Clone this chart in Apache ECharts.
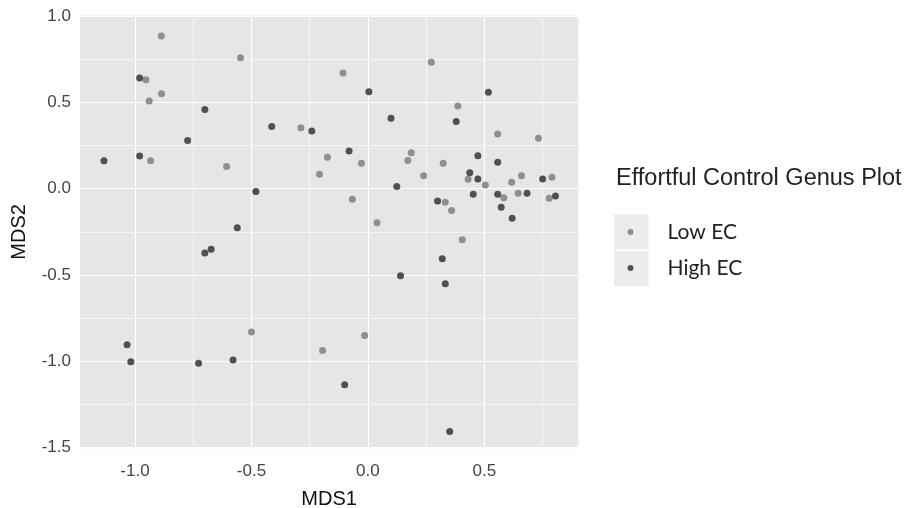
<!DOCTYPE html>
<html>
<head>
<meta charset="utf-8">
<script src="https://cdn.jsdelivr.net/npm/echarts@6/dist/echarts.min.js"></script>
<style>html,body{margin:0;padding:0;background:#fff;}#c{width:904px;height:508px;}</style>
</head>
<body>
<div id="c"></div>
<script>
// Data
const lowX  = [-0.887,-0.547,-0.953,-0.939,-0.886,-0.933,-0.607,-0.500,0.272,-0.107,0.386,-0.288,0.557,0.732,-0.174,0.186,0.171,-0.028,0.323,-0.208,0.239,0.430,0.504,0.659,0.617,0.790,0.583,0.645,0.778,-0.067,0.332,0.359,0.039,0.405,-0.014,-0.195];
const lowY  = [0.885,0.760,0.632,0.508,0.551,0.162,0.129,-0.832,0.734,0.671,0.479,0.354,0.317,0.292,0.182,0.209,0.164,0.147,0.147,0.083,0.075,0.054,0.021,0.075,0.038,0.066,-0.052,-0.026,-0.055,-0.062,-0.079,-0.126,-0.197,-0.296,-0.851,-0.938];
const highX = [-0.980,-0.700,-0.413,-0.774,-1.133,-0.980,-0.481,-0.561,-0.700,-0.673,-1.034,-1.018,-0.727,-0.579,0.004,0.517,0.379,0.099,-0.241,-0.081,0.472,0.557,0.437,0.472,0.750,0.124,0.452,0.557,0.683,0.805,0.299,0.572,0.619,0.319,0.140,0.332,-0.100,0.351];
const highY = [0.642,0.460,0.361,0.280,0.162,0.189,-0.017,-0.226,-0.373,-0.352,-0.905,-1.004,-1.013,-0.994,0.563,0.560,0.389,0.408,0.334,0.218,0.191,0.154,0.093,0.056,0.056,0.012,-0.033,-0.033,-0.026,-0.043,-0.072,-0.108,-0.172,-0.406,-0.505,-0.551,-1.137,-1.408];
const seriesNames = ['Low EC', 'High EC'];
const xTicks = [-1.0, -0.5, 0.0, 0.5];
const yTicks = [-1.5, -1.0, -0.5, 0.0, 0.5, 1.0];
const xMinor = [-0.75, -0.25, 0.25, 0.75];
const yMinor = [-1.25, -0.75, -0.25, 0.25, 0.75];

const zip = (a, b) => a.map((v, i) => [v, b[i]]);
const chart = echarts.init(document.getElementById('c'));

const gridLines = []
  .concat(xTicks.map(v => ({xAxis: v, lineStyle: {width: 1.2}})))
  .concat(yTicks.map(v => ({yAxis: v, lineStyle: {width: 1.2}})))
  .concat(xMinor.map(v => ({xAxis: v, lineStyle: {width: 0.6}})))
  .concat(yMinor.map(v => ({yAxis: v, lineStyle: {width: 0.6}})));

const tickLabel = {
  fontFamily: 'Liberation Sans', fontSize: 17, color: '#454545',
  formatter: v => Number(v).toFixed(1)
};

chart.setOption({
  animation: false,
  title: {
    text: 'Effortful Control Genus Plot',
    left: 616, top: 165, padding: 0,
    textStyle: {fontFamily: 'Liberation Sans', fontSize: 23.5, fontWeight: 'normal', color: '#222', lineHeight: 27}
  },
  graphic: [
    {type: 'rect', z: 0, shape: {x: 614, y: 214.5, width: 34.5, height: 35}, style: {fill: '#ececec'}},
    {type: 'rect', z: 0, shape: {x: 614, y: 251, width: 34.5, height: 35}, style: {fill: '#ececec'}}
  ],
  legend: {
    data: seriesNames, orient: 'vertical', left: 627.5, top: 219, padding: 0,
    icon: 'circle', itemWidth: 6, itemHeight: 6, itemGap: 10, selectedMode: false,
    textStyle: {fontFamily: 'Lato', fontSize: 21, color: '#222', lineHeight: 26, padding: [0, 0, 0, 29]}
  },
  grid: {left: 80, right: 325.7, top: 15.5, bottom: 59.7, show: true, backgroundColor: '#e6e6e6', borderWidth: 0,
    containLabel: false, outerBoundsMode: 'none'},
  xAxis: {
    type: 'value', min: -1.236, max: 0.903,
    name: 'MDS1', nameLocation: 'middle', nameGap: 41,
    nameTextStyle: {fontFamily: 'Liberation Sans', fontSize: 20, color: '#111'},
    axisLine: {show: false}, splitLine: {show: false},
    axisTick: {show: true, length: 4, lineStyle: {color: '#333'}, customValues: xTicks},
    axisLabel: Object.assign({margin: 15, customValues: xTicks}, tickLabel)
  },
  yAxis: {
    type: 'value', min: -1.506, max: 1.0046,
    name: 'MDS2', nameLocation: 'middle', nameGap: 51, nameRotate: 90,
    nameTextStyle: {fontFamily: 'Liberation Sans', fontSize: 20, color: '#111'},
    axisLine: {show: false}, splitLine: {show: false},
    axisTick: {show: true, length: 4, lineStyle: {color: '#333'}, customValues: yTicks},
    axisLabel: Object.assign({margin: 9, customValues: yTicks}, tickLabel)
  },
  series: [
    {
      type: 'line', z: 1, data: [], silent: true,
      markLine: {z: 1, silent: true, symbol: 'none', label: {show: false}, animation: false,
        lineStyle: {color: '#ffffff', type: 'solid'}, data: gridLines}
    },
    {name: seriesNames[0], type: 'scatter', z: 3, symbolSize: 7, data: zip(lowX, lowY), itemStyle: {color: '#8f8f8f', opacity: 1}},
    {name: seriesNames[1], type: 'scatter', z: 3, symbolSize: 7, data: zip(highX, highY), itemStyle: {color: '#505050', opacity: 1}}
  ]
});
</script>
</body>
</html>
